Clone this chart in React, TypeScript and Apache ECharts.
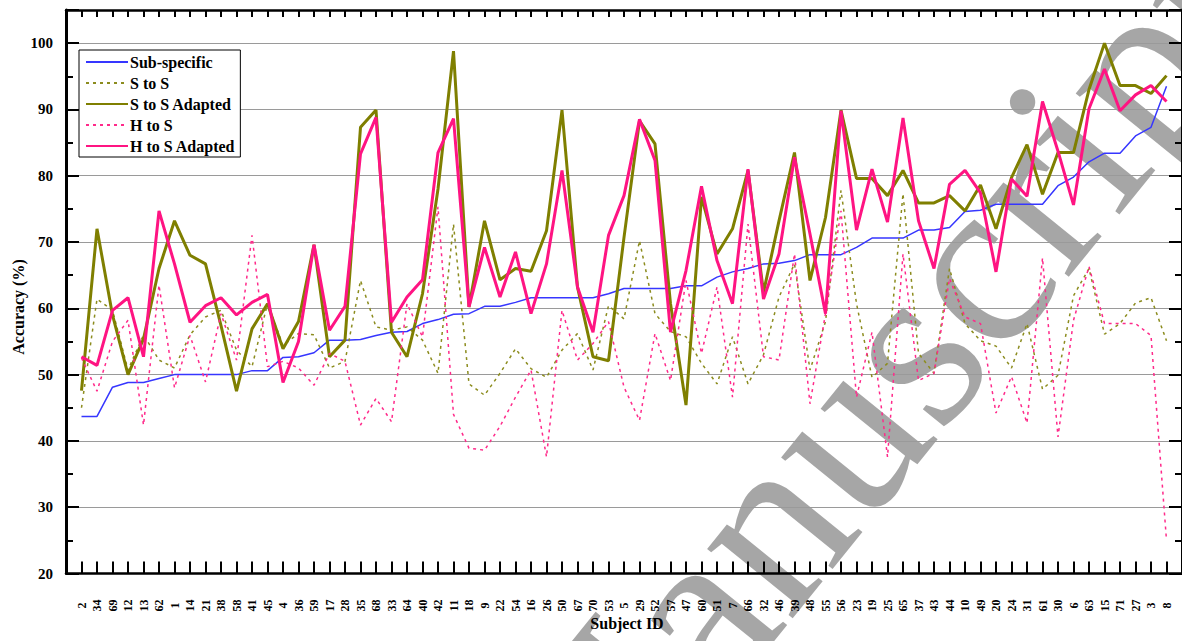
import React, { useEffect, useRef } from "react";
import * as echarts from "echarts";

const subjectIds = ["2","34","69","12","13","62","1","14","21","38","58","41","45","4","36","59","17","28","35","68","33","64","40","42","11","18","9","22","54","16","26","50","67","70","53","5","29","52","57","47","60","51","7","66","32","46","39","48","55","56","23","19","25","65","37","43","44","10","49","20","24","31","61","30","6","63","15","71","27","3","8"];

const subSpecific = [43.7,43.7,48.1,48.8,48.8,49.4,50.0,50.0,50.0,50.0,50.0,50.6,50.6,52.6,52.7,53.3,55.2,55.2,55.3,55.9,56.4,56.5,57.7,58.3,59.1,59.2,60.3,60.3,60.9,61.6,61.6,61.6,61.6,61.6,62.2,63.0,63.0,63.0,63.0,63.4,63.4,64.7,65.5,66.0,66.7,66.8,67.2,68.1,68.1,68.1,69.2,70.6,70.6,70.6,71.8,71.8,72.2,74.6,74.8,75.7,75.7,75.7,75.7,78.5,79.8,82.1,83.4,83.4,86.0,87.3,93.5];

const sToS = [45.0,61.4,59.7,50.7,56.0,52.2,51.0,56.0,58.7,59.7,53.7,51.2,60.7,54.4,56.2,56.0,51.0,52.0,64.2,57.2,56.7,57.2,55.2,50.2,72.7,48.6,46.9,50.2,53.9,50.9,49.6,53.7,56.2,50.7,60.4,58.4,70.2,59.2,56.5,55.7,51.7,48.6,55.7,48.6,53.0,61.7,66.7,50.7,58.0,77.8,60.7,49.6,51.7,77.3,53.2,50.2,66.0,57.7,55.1,54.3,51.0,57.7,47.8,49.9,61.9,66.0,56.1,57.7,60.8,61.6,55.1];

const sToSAdapted = [47.6,72.0,59.0,50.0,55.4,66.0,73.2,68.0,66.7,57.4,47.5,56.9,60.7,53.9,58.0,69.6,52.7,55.2,87.3,89.9,56.4,52.7,62.2,78.0,98.8,60.2,73.2,64.3,66.0,65.6,71.7,89.9,63.2,52.7,52.1,70.7,88.3,84.8,60.7,45.4,76.8,68.2,72.0,80.8,62.4,73.2,83.5,64.2,73.7,89.9,79.6,79.6,77.0,80.8,75.9,75.9,77.0,74.7,78.6,72.0,79.7,84.7,77.2,83.5,83.5,93.0,100.0,93.6,93.6,92.4,95.1];

const hToS = [52.5,47.5,55.0,58.2,42.4,63.5,48.0,55.9,48.9,59.2,52.2,71.0,51.2,52.0,51.0,48.4,53.2,52.0,42.4,46.4,42.9,60.7,55.7,75.3,44.0,38.9,38.6,42.2,46.6,50.7,37.6,59.7,52.2,54.7,58.0,48.1,43.1,56.2,49.1,64.2,53.2,63.2,46.6,72.7,52.7,52.2,68.2,45.6,59.2,74.7,46.6,56.4,37.6,68.2,49.1,50.2,64.5,58.7,57.7,44.2,49.7,42.7,67.6,40.6,58.2,66.3,57.7,57.7,57.7,55.9,25.0];

const hToSAdapted = [52.7,51.4,59.7,61.6,52.7,74.7,66.7,57.9,60.4,61.6,59.0,60.9,62.1,48.8,55.0,69.6,56.7,60.3,83.3,88.8,57.9,61.7,64.3,83.5,88.6,60.2,69.2,61.7,68.5,59.2,66.7,80.8,63.2,56.4,71.0,77.0,88.5,82.3,56.4,65.7,78.4,67.2,60.7,81.0,61.4,68.2,82.8,71.2,59.2,89.8,71.8,81.0,73.0,88.7,73.2,66.0,78.7,80.8,77.4,65.5,79.5,76.9,91.2,83.7,75.6,90.1,96.1,89.8,92.2,93.6,91.2];

const FONT = "'Liberation Serif', 'Times New Roman', serif";

function toPairs(values: number[]) {
  return values.map((v, i) => [i + 1, v]);
}

export default function App() {
  const ref = useRef<HTMLDivElement>(null);
  useEffect(() => {
    document.body.style.margin = "0";
    if (!ref.current) return;
    const chart = echarts.init(ref.current, null, { renderer: "svg" });
    const xMax = subjectIds.length + 1;
    const baseX = {
      type: "value" as const,
      min: 0,
      max: xMax,
      interval: 1,
      splitLine: { show: false },
    };
    const baseY = {
      type: "value" as const,
      min: 20,
      max: 105,
      axisLabel: { show: false },
      splitLine: { show: false },
    };
    chart.setOption({
      animation: false,
      backgroundColor: "#ffffff",
      grid: { left: 66, top: 10, right: -5, bottom: 67.5, containLabel: false },
      legend: {
        orient: "vertical",
        left: 79,
        top: 50,
        padding: [4, 5, 3, 6],
        itemWidth: 42,
        itemHeight: 14,
        itemGap: 5,
        borderColor: "#000",
        borderWidth: 1,
        backgroundColor: "#fff",
        itemStyle: { opacity: 0 },
        textStyle: { fontFamily: FONT, fontWeight: "bold", fontSize: 16, color: "#000", padding: [0, 0, 0, -3] },
        data: ["Sub-specific", "S to S", "S to S Adapted", "H to S", "H to S Adapted"],
      },
      xAxis: [
        {
          ...baseX,
          position: "bottom",
          axisLine: { lineStyle: { color: "#000", width: 2.5 } },
          axisTick: { inside: true, length: 12, lineStyle: { color: "#000", width: 2 } },
          axisLabel: {
            rotate: 90,
            align: "center",
            verticalAlign: "middle",
            margin: 32,
            fontFamily: FONT,
            fontWeight: "bold",
            fontSize: 12,
            color: "#000",
            formatter: (v: number) => subjectIds[Math.round(v) - 1] ?? "",
          },
        },
        {
          ...baseX,
          position: "top",
          axisLine: { lineStyle: { color: "#000", width: 2.5 } },
          axisTick: { inside: true, length: 7, lineStyle: { color: "#000", width: 2 } },
          axisLabel: { show: false },
        },
      ],
      yAxis: [
        {
          ...baseY,
          position: "left",
          interval: 10,
          axisLine: { show: true, lineStyle: { color: "#000", width: 3 } },
          axisTick: { inside: true, length: 13, lineStyle: { color: "#000", width: 2 } },
          axisLabel: {
            show: true,
            margin: 13,
            fontFamily: FONT,
            fontWeight: "bold",
            fontSize: 15,
            color: "#000",
            formatter: (v: number) => (v <= 100 ? String(v) : ""),
          },
          splitLine: { show: true, lineStyle: { color: "#9a9a9a", width: 1 } },
        },
        {
          ...baseY,
          position: "left",
          interval: 5,
          axisLine: { show: false },
          axisTick: { inside: true, length: 7, lineStyle: { color: "#000", width: 2 } },
        },
        {
          ...baseY,
          position: "right",
          interval: 10,
          axisLine: { show: true, lineStyle: { color: "#000", width: 3 } },
          axisTick: { inside: true, length: 13, lineStyle: { color: "#000", width: 2 } },
        },
        {
          ...baseY,
          position: "right",
          interval: 5,
          axisLine: { show: false },
          axisTick: { inside: true, length: 7, lineStyle: { color: "#000", width: 2 } },
        },
      ],
      graphic: [
        {
          type: "text",
          z: -10,
          x: 525,
          y: 820,
          rotation: (51 * Math.PI) / 180,
          silent: true,
          style: {
            text: "Manuscript",
            font: `240px ${FONT}`,
            fill: "rgba(150,150,150,0.85)",
            align: "left",
            verticalAlign: "middle",
          },
        },
        {
          type: "text",
          x: 18,
          y: 307,
          rotation: Math.PI / 2,
          style: {
            text: "Accuracy (%)",
            font: `bold 16px ${FONT}`,
            fill: "#000",
            align: "center",
            verticalAlign: "middle",
          },
        },
        {
          type: "text",
          x: 627,
          y: 623,
          style: {
            text: "Subject ID",
            font: `bold 16px ${FONT}`,
            fill: "#000",
            align: "center",
            verticalAlign: "middle",
          },
        },
      ],
      series: [
        {
          name: "Sub-specific",
          type: "line",
          symbol: "none",
          data: toPairs(subSpecific),
          lineStyle: { color: "#3636ff", width: 1.5 },
          itemStyle: { color: "#3636ff" },
          z: 3,
        },
        {
          name: "S to S",
          type: "line",
          symbol: "none",
          data: toPairs(sToS),
          lineStyle: { color: "#8c8c1e", width: 1.5, type: [3, 4] },
          itemStyle: { color: "#8c8c1e" },
          z: 3,
        },
        {
          name: "S to S Adapted",
          type: "line",
          symbol: "none",
          data: toPairs(sToSAdapted),
          lineStyle: { color: "#7f7f00", width: 3 },
          itemStyle: { color: "#7f7f00" },
          z: 4,
        },
        {
          name: "H to S",
          type: "line",
          symbol: "none",
          data: toPairs(hToS),
          lineStyle: { color: "#ff2a8a", width: 1.5, type: [3, 4] },
          itemStyle: { color: "#ff2a8a" },
          z: 4,
        },
        {
          name: "H to S Adapted",
          type: "line",
          symbol: "none",
          data: toPairs(hToSAdapted),
          lineStyle: { color: "#ff1482", width: 3 },
          itemStyle: { color: "#ff1482" },
          z: 5,
        },
      ],
    });
    return () => chart.dispose();
  }, []);
  return <div ref={ref} style={{ width: 1182, height: 641 }} />;
}
